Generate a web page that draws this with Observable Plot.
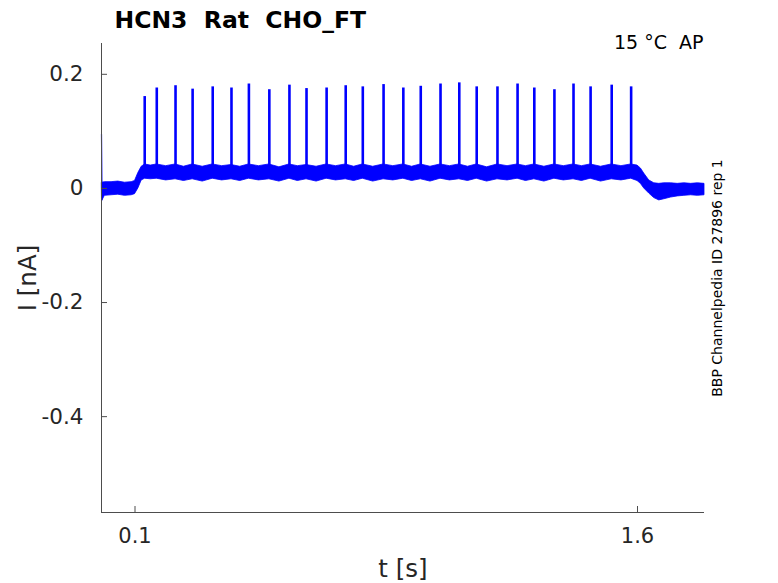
<!DOCTYPE html>
<html><head><meta charset="utf-8">
<script src="https://cdn.jsdelivr.net/npm/d3@7"></script>
<script src="https://cdn.jsdelivr.net/npm/@observablehq/plot@0.6"></script>
<style>body{margin:0;background:#fff} svg text{white-space:pre}</style>
</head><body><div id="chart"></div>
<script>
const titleText = "HCN3  Rat  CHO_FT";
const conditionText = "15 °C  AP";
const sourceText = "BBP Channelpedia ID 27896 rep 1";
const xLabel = "t [s]";
const yLabel = "I [nA]";
const xTicks = [0.1, 1.6];
const yTicks = [0.2, 0, -0.2, -0.4];
const xDomain = [0, 1.8];
const yDomain = [-0.568, 0.254];

// initial capacitive transient at t = 0
const transientT = [0, 0.0015, 0.003];
const transientI = [0.095, -0.02, 0.0];

// noise band envelope (lower / upper edge of the trace)
const envT = [0.002, 0.01, 0.03, 0.05, 0.07, 0.09, 0.10, 0.11, 0.12, 0.13,
  0.147, 0.165, 0.193, 0.221, 0.246, 0.272, 0.302, 0.332, 0.36, 0.388,
  0.414, 0.440, 0.47, 0.501, 0.531, 0.561, 0.586, 0.612, 0.642, 0.672,
  0.70, 0.729, 0.754, 0.780, 0.811, 0.842, 0.871, 0.901, 0.927, 0.953,
  0.982, 1.012, 1.04, 1.068, 1.094, 1.120, 1.151, 1.182, 1.212, 1.242,
  1.267, 1.292, 1.322, 1.352, 1.38, 1.409, 1.434, 1.460, 1.491, 1.523,
  1.552, 1.581, 1.60, 1.61, 1.62, 1.635, 1.65, 1.665, 1.68, 1.70,
  1.72, 1.74, 1.76, 1.78, 1.80];
const envLo = [-0.022, -0.013, -0.012, -0.011, -0.013, -0.012, -0.010, 0.000, 0.014, 0.017,
  0.016, 0.017, 0.014, 0.016, 0.013, 0.016, 0.012, 0.017, 0.014, 0.016,
  0.013, 0.017, 0.014, 0.016, 0.012, 0.017, 0.013, 0.016, 0.012, 0.017,
  0.014, 0.016, 0.013, 0.017, 0.012, 0.016, 0.014, 0.017, 0.013, 0.016,
  0.012, 0.017, 0.014, 0.016, 0.013, 0.017, 0.012, 0.016, 0.014, 0.017,
  0.013, 0.016, 0.012, 0.017, 0.014, 0.016, 0.013, 0.017, 0.012, 0.016,
  0.014, 0.017, 0.013, 0.008, 0.000, -0.009, -0.017, -0.021, -0.019, -0.016,
  -0.014, -0.013, -0.012, -0.013, -0.012];
const envHi = [0.010, 0.011, 0.011, 0.012, 0.010, 0.011, 0.013, 0.027, 0.038, 0.042,
  0.040, 0.042, 0.039, 0.042, 0.038, 0.042, 0.038, 0.042, 0.039, 0.041,
  0.038, 0.042, 0.039, 0.042, 0.037, 0.042, 0.039, 0.041, 0.038, 0.042,
  0.039, 0.042, 0.038, 0.042, 0.038, 0.042, 0.039, 0.042, 0.038, 0.042,
  0.038, 0.042, 0.039, 0.042, 0.038, 0.042, 0.037, 0.042, 0.039, 0.042,
  0.039, 0.042, 0.038, 0.042, 0.039, 0.042, 0.039, 0.042, 0.038, 0.042,
  0.039, 0.042, 0.040, 0.035, 0.026, 0.014, 0.009, 0.008, 0.009, 0.009,
  0.008, 0.009, 0.008, 0.009, 0.008];

// action-potential driven spikes
const spikeT = [0.129, 0.165, 0.221, 0.272, 0.332, 0.388, 0.440, 0.501, 0.561, 0.612,
  0.672, 0.729, 0.780, 0.842, 0.901, 0.953, 1.012, 1.068, 1.120, 1.182,
  1.242, 1.292, 1.352, 1.409, 1.460, 1.523, 1.581];
const spikePeak = [0.161, 0.176, 0.180, 0.174, 0.178, 0.176, 0.183, 0.173, 0.181, 0.175,
  0.176, 0.180, 0.178, 0.182, 0.176, 0.179, 0.183, 0.185, 0.178, 0.178,
  0.183, 0.176, 0.173, 0.183, 0.178, 0.181, 0.178];
const spikeBase = 0.03;

const env = envT.map((t, i) => ({t, lo: envLo[i], hi: envHi[i]}));
const spikes = spikeT.map((t, i) => ({t, peak: spikePeak[i]}));
const transient = transientT.map((t, i) => ({t, v: transientI[i]}));

const blue = "#0000ff";
const axisColor = "#4d4d4d";
const textColor = "#262626";

const chart = Plot.plot({
  width: 778, height: 583,
  marginLeft: 101, marginRight: 74, marginTop: 43, marginBottom: 71,
  style: {fontFamily: "'DejaVu Sans', sans-serif", background: "white"},
  x: {domain: xDomain},
  y: {domain: yDomain},
  marks: [
    Plot.areaY(env, {x: "t", y1: "lo", y2: "hi", fill: blue, stroke: blue, strokeWidth: 0.8}),
    Plot.lineY(transient, {x: "t", y: "v", stroke: blue, strokeWidth: 1.2}),
    Plot.ruleX(spikes, {x: "t", y1: () => spikeBase, y2: "peak", stroke: blue, strokeWidth: 2.6}),
    Plot.ruleX([xDomain[0]], {stroke: axisColor}),
    Plot.ruleY([yDomain[0]], {stroke: axisColor}),
    Plot.tickX(xTicks, {x: d => d, insetTop: 463, stroke: axisColor}),
    Plot.tickY(yTicks, {y: d => d, insetRight: 597, stroke: axisColor}),
    Plot.axisX({ticks: xTicks, tickSize: 0, tickPadding: 16, tickFormat: d => String(d), fontSize: 21, fill: textColor, label: null}),
    Plot.axisY({ticks: yTicks, tickSize: 0, tickPadding: 18, tickFormat: d => String(d), fontSize: 21.5, fill: textColor, label: null}),
    Plot.text([titleText], {text: d => d, frameAnchor: "top-left", textAnchor: "start", lineAnchor: "bottom", dx: 13, dy: -16, fontSize: 23.5, fontWeight: "bold", fill: "black"}),
    Plot.text([conditionText], {text: d => d, frameAnchor: "top-right", textAnchor: "end", lineAnchor: "bottom", dx: -1, dy: 5, fontSize: 19, fill: "black"}),
    Plot.text([sourceText], {text: d => d, frameAnchor: "right", textAnchor: "middle", lineAnchor: "middle", rotate: -90, dx: 13, fontSize: 14, fill: "black"}),
    Plot.text([yLabel], {text: d => d, frameAnchor: "left", textAnchor: "middle", lineAnchor: "middle", rotate: -90, dx: -73, fontSize: 24.5, fill: textColor}),
    Plot.text([xLabel], {text: d => d, frameAnchor: "bottom", textAnchor: "middle", lineAnchor: "bottom", dy: 64, fontSize: 24.5, fill: textColor})
  ]
});
document.getElementById("chart").appendChild(chart);
</script>
</body></html>
